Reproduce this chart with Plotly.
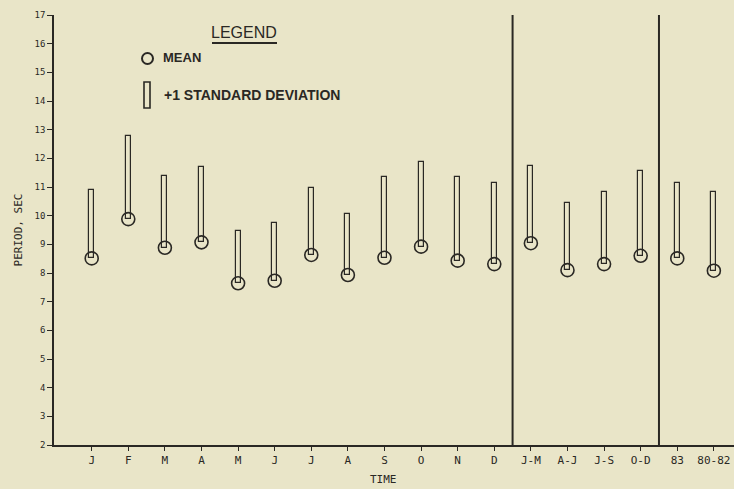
import plotly.graph_objects as go

categories = ["J", "F", "M", "A", "M", "J", "J", "A", "S", "O", "N", "D",
              "J-M", "A-J", "J-S", "O-D", "83", "80-82"]
tick_labels = ["J", "F", "M", "A", "M", "J", "J", "A", "S", "O", "N", "D",
               "J-M", "A-J", "J-S", "O-D", "83", "80-82"]
means = [8.51, 9.88, 8.88, 9.07, 7.64, 7.73, 8.63, 7.93, 8.53, 8.92, 8.43, 8.31,
         9.04, 8.10, 8.31, 8.60, 8.51, 8.08]
tops = [10.89, 12.79, 11.38, 11.69, 9.46, 9.75, 10.95, 10.05, 11.36, 11.86, 11.36, 11.15,
        11.74, 10.43, 10.84, 11.56, 11.13, 10.84]
sd = [t - m for t, m in zip(tops, means)]
dividers = [11.5, 15.5]
y_ticks = list(range(2, 18))

BG = "#e9e5c8"
INK = "#2a2824"
FONT = "DejaVu Sans Mono"
LFONT = "Liberation Sans"

W, H = 734, 489
L, R, T, B = 54, 0, 15, 44
PW, PH = W - L - R, H - T - B


def px(xp):
    return (xp - L) / PW


def py(yp):
    return 1 - (yp - T) / PH


x = list(range(len(categories)))

fig = go.Figure()
fig.add_trace(go.Bar(
    x=x, y=sd, base=means, width=0.14,
    marker=dict(color=BG, line=dict(color=INK, width=1.2)),
    showlegend=False, hoverinfo="skip"))
fig.add_trace(go.Scatter(
    x=x, y=means, mode="markers",
    marker=dict(symbol="circle-open", size=13, color=INK, line=dict(width=1.6)),
    showlegend=False, cliponaxis=False))

for d in dividers:
    fig.add_shape(type="line", xref="x", yref="y", x0=d, x1=d, y0=2, y1=17.05,
                  line=dict(color=INK, width=2))

# Legend block
fig.add_annotation(xref="paper", yref="paper", x=px(244), y=py(32),
                   xanchor="center", yanchor="middle",
                   text="LEGEND", showarrow=False,
                   font=dict(family=LFONT, size=16, color=INK))
fig.add_shape(type="line", xref="paper", yref="paper",
              x0=px(212), x1=px(277), y0=py(43), y1=py(43),
              line=dict(color=INK, width=2))
fig.add_shape(type="circle", xref="paper", yref="paper",
              x0=px(142), x1=px(153), y0=py(64), y1=py(53),
              line=dict(color=INK, width=2))
fig.add_annotation(xref="paper", yref="paper", x=px(161), y=py(58),
                   xanchor="left", yanchor="middle", text="<b>MEAN</b>", showarrow=False,
                   font=dict(family=LFONT, size=13, color=INK))
fig.add_shape(type="rect", xref="paper", yref="paper",
              x0=px(144), x1=px(150), y0=py(108), y1=py(82),
              line=dict(color=INK, width=1.6), fillcolor=BG)
fig.add_annotation(xref="paper", yref="paper", x=px(162), y=py(95),
                   xanchor="left", yanchor="middle",
                   text="<b>+1 STANDARD DEVIATION</b>", showarrow=False,
                   font=dict(family=LFONT, size=14, color=INK))

# Axis title for x
fig.add_annotation(xref="paper", yref="paper", x=px(383), y=py(480),
                   xanchor="center", yanchor="middle", text="TIME", showarrow=False,
                   font=dict(family=FONT, size=11, color=INK))

fig.update_layout(
    width=W, height=H,
    margin=dict(l=L, r=R, t=T, b=B),
    paper_bgcolor=BG, plot_bgcolor=BG,
    font=dict(family=FONT, color=INK, size=11),
    bargap=0,
    xaxis=dict(range=[-1.03, 17.55], tickmode="array", tickvals=x, ticktext=tick_labels,
               showgrid=False, zeroline=False, showline=True, linecolor=INK, linewidth=1.5,
               ticks="outside", ticklen=4, tickcolor=INK,
               tickfont=dict(family=FONT, size=11, color=INK)),
    yaxis=dict(range=[2, 17], tickmode="array", tickvals=y_ticks,
               showgrid=False, zeroline=False, showline=True, linecolor=INK, linewidth=1.5,
               ticks="outside", ticklen=5, tickcolor=INK,
               tickfont=dict(family=FONT, size=9, color=INK),
               title=dict(text="PERIOD, SEC", standoff=10,
                          font=dict(family=FONT, size=11, color=INK))),
)

fig.write_html("out.html")
